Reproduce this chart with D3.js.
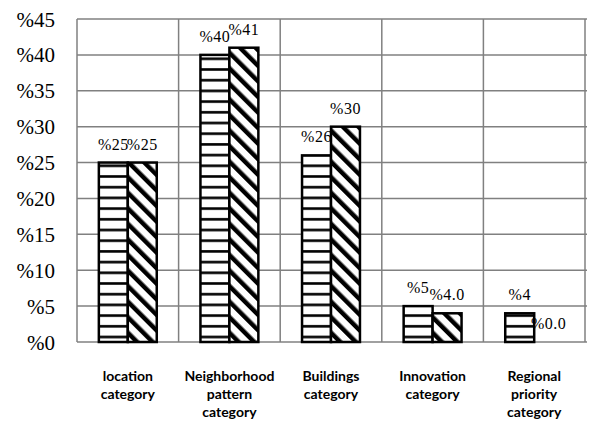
<!DOCTYPE html>
<html>
<head>
<meta charset="utf-8">
<script src="https://cdn.jsdelivr.net/npm/d3@7"></script>
<style>
  body { margin: 0; background: #fff; }
  .serif { font-family: "Liberation Serif", "Times New Roman", serif; }
</style>
</head>
<body>
<div id="chart"></div>
<script>
var width = 593,
    height = 423;

// data
var categories = [
  ["location", "category"],
  ["Neighborhood", "pattern", "category"],
  ["Buildings", "category"],
  ["Innovation", "category"],
  ["Regional", "priority", "category"]
];
var seriesA = [25, 40, 26, 5, 4];
var seriesB = [25, 41, 30, 4, 0];
var labelsA = ["%25", "%40", "%26", "%5", "%4"];
var labelsB = ["%25", "%41", "%30", "%4.0", "%0.0"];
var yTicks = [0, 5, 10, 15, 20, 25, 30, 35, 40, 45];

var plot = {left: 77, right: 585, top: 19, bottom: 342};

var svg = d3.select("#chart")
    .append("svg")
    .attr("width", width)
    .attr("height", height);

/* patterns for the two series */
var defs = svg.append("defs");

var horiz = defs.append("pattern")
    .attr("id", "horiz")
    .attr("patternUnits", "userSpaceOnUse")
    .attr("width", 10)
    .attr("height", 10.7);
horiz.append("rect").attr("width", 10).attr("height", 10.7).attr("fill", "#fff");
horiz.append("rect").attr("y", 4).attr("width", 10).attr("height", 2.6).attr("fill", "#000");

var diag = defs.append("pattern")
    .attr("id", "diag")
    .attr("patternUnits", "userSpaceOnUse")
    .attr("width", 11)
    .attr("height", 11)
    .attr("patternTransform", "rotate(-45)");
diag.append("rect").attr("width", 11).attr("height", 11).attr("fill", "#fff");
diag.append("rect").attr("x", 3).attr("width", 4.5).attr("height", 11).attr("fill", "#000");

/* scales */
var x0 = d3.scaleBand()
    .domain(d3.range(categories.length))
    .range([plot.left, plot.right])
    .paddingInner(0.43)
    .paddingOuter(0.215);

var x1 = d3.scaleBand()
    .domain([0, 1])
    .range([0, x0.bandwidth()]);

var y = d3.scaleLinear()
    .domain([0, 45])
    .range([plot.bottom, plot.top]);

/* grid */
var grid = svg.append("g");
grid.selectAll(".hline")
    .data(yTicks)
    .enter().append("line")
    .attr("x1", plot.left)
    .attr("x2", plot.right + 2)
    .attr("y1", function(d) { return y(d); })
    .attr("y2", function(d) { return y(d); })
    .attr("stroke", "#808080")
    .attr("stroke-width", 1.5);

var vlines = d3.range(categories.length + 1).map(function(i) {
  return plot.left + i * x0.step();
});
grid.selectAll(".vline")
    .data(vlines)
    .enter().append("line")
    .attr("x1", function(d) { return d; })
    .attr("x2", function(d) { return d; })
    .attr("y1", plot.top)
    .attr("y2", plot.bottom)
    .attr("stroke", "#808080")
    .attr("stroke-width", 1.5);

/* y tick labels */
svg.append("g").selectAll("text")
    .data(yTicks)
    .enter().append("text")
    .attr("class", "serif")
    .attr("x", 55)
    .attr("y", function(d) { return y(d); })
    .attr("dy", "0.36em")
    .attr("text-anchor", "end")
    .style("font-size", "21px")
    .text(function(d) { return "%" + d; });

/* bars */
var rows = categories.map(function(c, i) {
  return [
    {cat: i, s: 0, v: seriesA[i], label: labelsA[i]},
    {cat: i, s: 1, v: seriesB[i], label: labelsB[i]}
  ];
});

var groups = svg.append("g").selectAll("g")
    .data(rows)
    .enter().append("g")
    .attr("transform", function(d, i) { return "translate(" + x0(i) + ",0)"; });

groups.selectAll("rect")
    .data(function(d) { return d.filter(function(e) { return e.v > 0; }); })
    .enter().append("rect")
    .attr("x", function(d) { return x1(d.s); })
    .attr("y", function(d) { return y(d.v); })
    .attr("width", x1.bandwidth())
    .attr("height", function(d) { return y(0) - y(d.v); })
    .attr("fill", function(d) { return d.s === 0 ? "url(#horiz)" : "url(#diag)"; })
    .attr("stroke", "#000")
    .attr("stroke-width", 2.5);

groups.selectAll("text")
    .data(function(d) { return d; })
    .enter().append("text")
    .attr("class", "serif")
    .attr("x", function(d) { return x1(d.s) + x1.bandwidth() / 2; })
    .attr("y", function(d) { return y(d.v) - 13; })
    .attr("text-anchor", "middle")
    .style("font-size", "16px")
    .style("letter-spacing", "0.5px")
    .text(function(d) { return d.label; });

/* category labels */
var catLabels = svg.append("g").selectAll("text")
    .data(categories)
    .enter().append("text")
    .attr("x", function(d, i) { return x0(i) + x0.bandwidth() / 2; })
    .attr("y", 381)
    .attr("text-anchor", "middle")
    .style("font-family", "Lato, sans-serif")
    .style("font-weight", "bold")
    .style("font-size", "14px");

catLabels.selectAll("tspan")
    .data(function(d) { return d; })
    .enter().append("tspan")
    .attr("x", function() { return this.parentNode.getAttribute("x"); })
    .attr("dy", function(d, i) { return i === 0 ? 0 : 18; })
    .text(function(d) { return d; });
</script>
</body>
</html>
